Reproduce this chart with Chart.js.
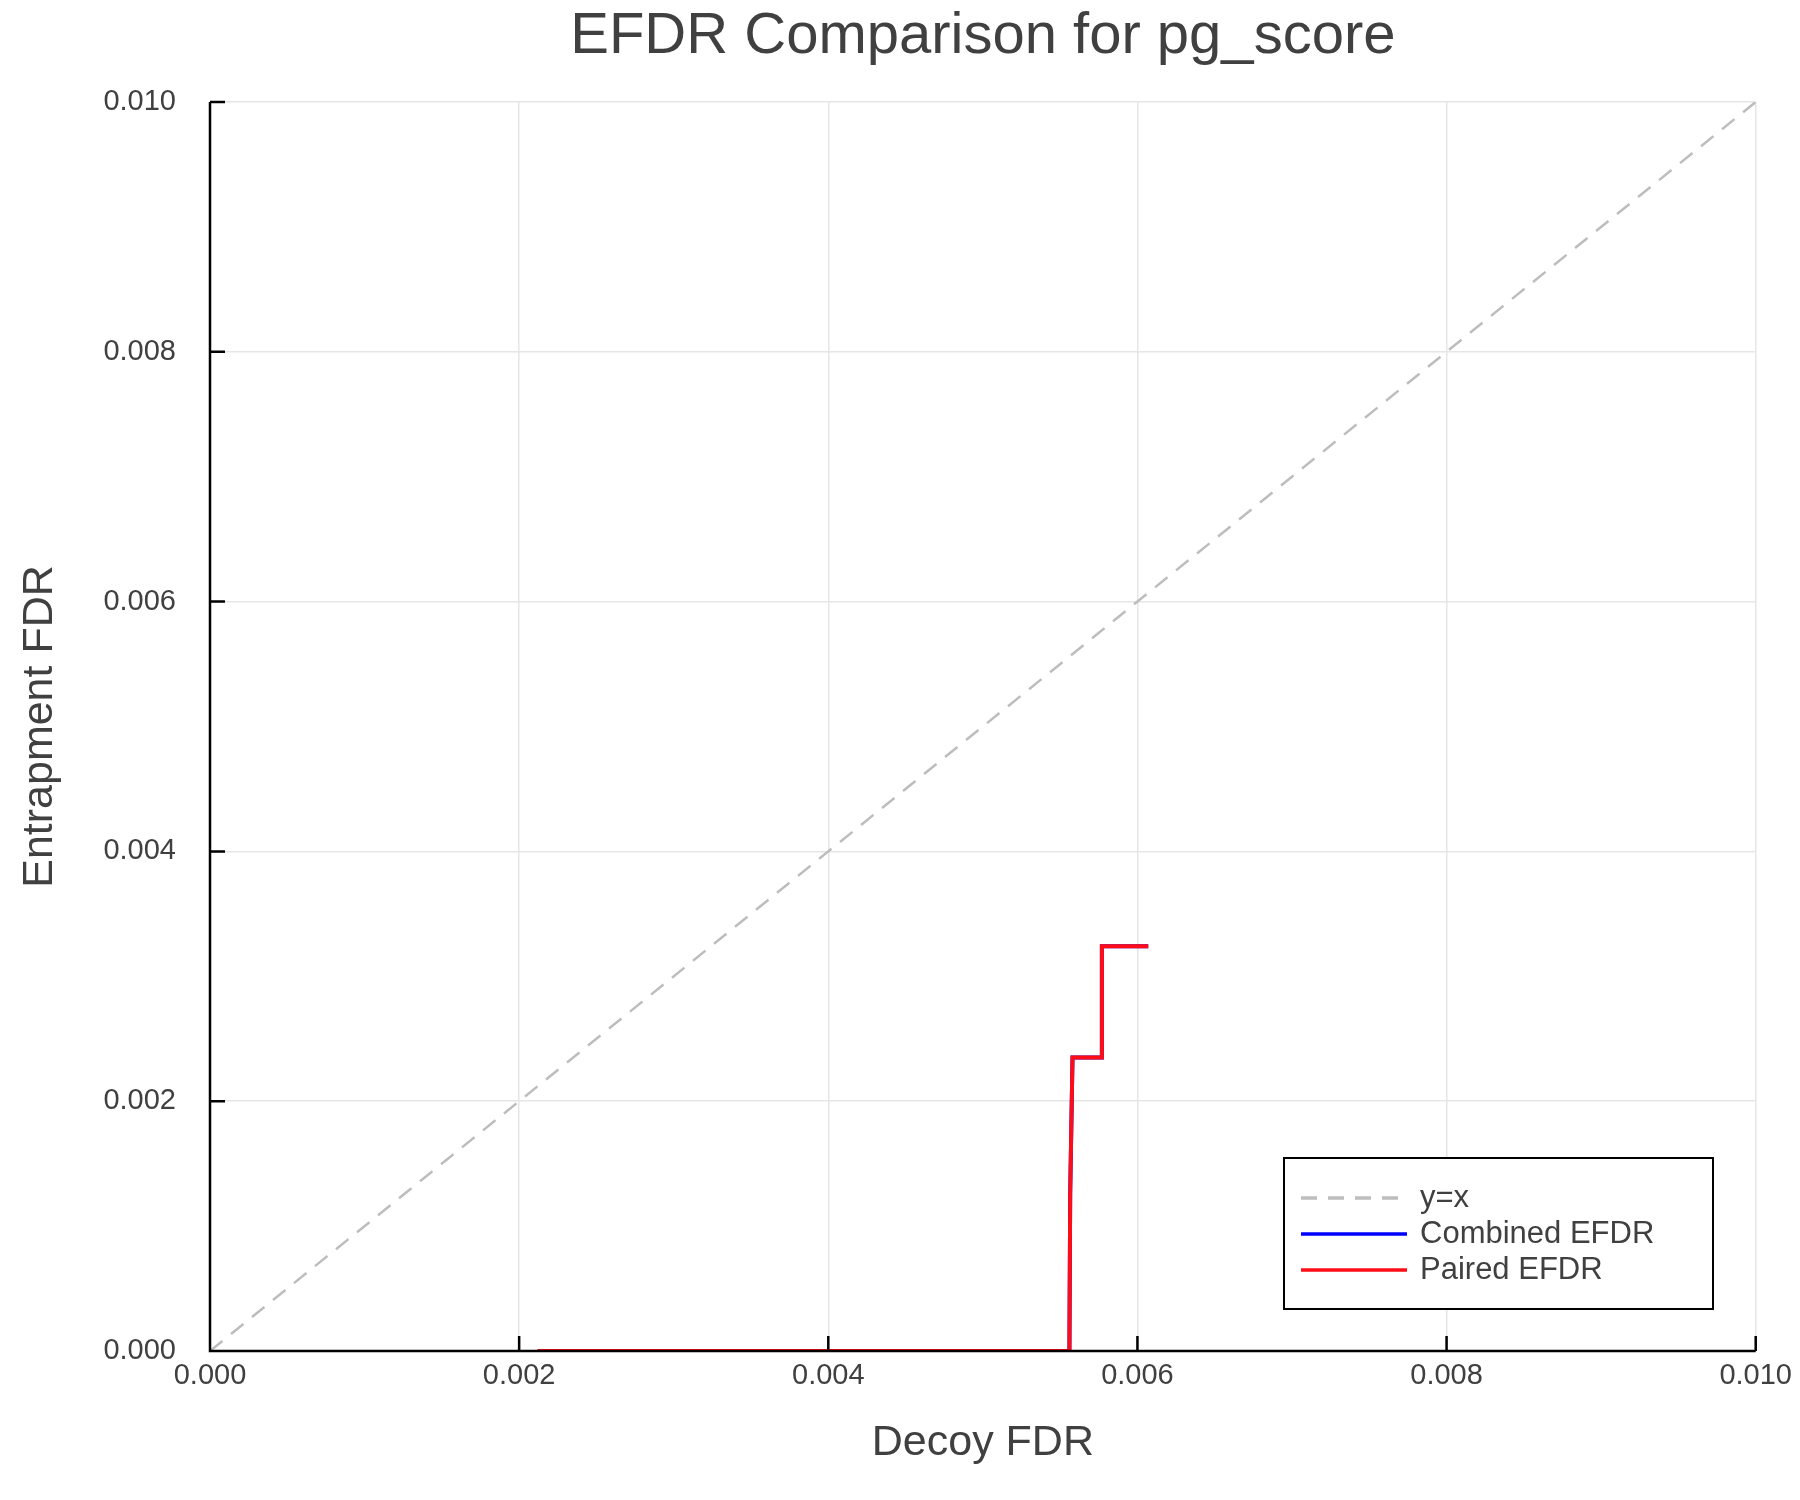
<!DOCTYPE html>
<html><head><meta charset="utf-8">
<script src="https://cdn.jsdelivr.net/npm/chart.js@4"></script>
<style>body{margin:0;background:#fff}#w{width:1800px;height:1500px}</style></head>
<body><div id="w"><canvas id="c" width="1800" height="1500"></canvas></div>
<script>
const titleText = "EFDR Comparison for pg_score";
const xTitle = "Decoy FDR";
const yTitle = "Entrapment FDR";
const tickValues = [0, 0.002, 0.004, 0.006, 0.008, 0.010];
const diagX = [0, 0.01];
const diagY = [0, 0.01];
const efdrX = [0.00212, 0.00556, 0.005565, 0.00558, 0.00577, 0.00577, 0.00607];
const combinedY = [0, 0, 0.00126, 0.00235, 0.00235, 0.00324, 0.00324];
const pairedY = [0, 0, 0.00126, 0.00235, 0.00235, 0.00324, 0.00324];
const FONT = "'Liberation Sans', Arial, sans-serif";
const pts = (xs, ys) => xs.map((x, i) => ({x, y: ys[i]}));

const deco = {
  id: 'deco',
  afterDraw(ch) {
    const c = ch.ctx, a = ch.chartArea, xs = ch.scales.x, ys = ch.scales.y;
    c.save();
    c.fillStyle = '#404040';
    c.textAlign = 'center'; c.textBaseline = 'middle';
    c.font = '58px ' + FONT;
    c.fillText(titleText, (a.left + a.right) / 2, 37);
    c.font = '43px ' + FONT;
    c.fillText(xTitle, (a.left + a.right) / 2, 1443);
    c.translate(40, (a.top + a.bottom) / 2); c.rotate(-Math.PI / 2);
    c.fillText(yTitle, 0, 0);
    c.restore();
    c.save();
    c.strokeStyle = '#000'; c.lineWidth = 2.5;
    c.beginPath();
    c.moveTo(a.left, a.top); c.lineTo(a.left, a.bottom); c.lineTo(a.right, a.bottom);
    tickValues.forEach(v => {
      const px = xs.getPixelForValue(v), py = ys.getPixelForValue(v);
      c.moveTo(px, a.bottom); c.lineTo(px, a.bottom - 15);
      c.moveTo(a.left, py); c.lineTo(a.left + 15, py);
    });
    c.stroke();
    const L = 1284, T = 1158, W = 429, H = 151;
    c.fillStyle = '#fff'; c.fillRect(L, T, W, H);
    c.lineWidth = 2; c.strokeRect(L, T, W, H);
    c.font = '31px ' + FONT; c.textAlign = 'left'; c.textBaseline = 'middle';
    ch.data.datasets.forEach((d, i) => {
      const y = T + 40 + i * 36;
      c.strokeStyle = d.borderColor; c.lineWidth = 3.5;
      c.setLineDash(d.borderDash || []);
      c.beginPath(); c.moveTo(L + 17, y); c.lineTo(L + 123, y); c.stroke();
      c.setLineDash([]);
      c.fillStyle = '#404040'; c.fillText(d.label, L + 136, y);
    });
    c.restore();
  }
};

new Chart(document.getElementById('c'), {
  type: 'scatter',
  data: { datasets: [
    { label: 'y=x', order: 3, data: pts(diagX, diagY), showLine: true, borderColor: '#bdbdbd', borderWidth: 2.5, borderDash: [16, 11], pointRadius: 0 },
    { label: 'Combined EFDR', order: 2, data: pts(efdrX, combinedY), showLine: true, borderColor: '#0000ff', borderWidth: 4, pointRadius: 0 },
    { label: 'Paired EFDR', order: 1, data: pts(efdrX, pairedY), showLine: true, borderColor: '#ff0d16', borderWidth: 4, pointRadius: 0 }
  ]},
  options: {
    responsive: false, animation: false, devicePixelRatio: 1,
    layout: { padding: { top: 102, right: 35, bottom: 0, left: 0 } },
    plugins: { legend: { display: false }, tooltip: { enabled: false } },
    scales: {
      x: { type: 'linear', min: 0, max: 0.01,
        afterBuildTicks: s => { s.ticks = tickValues.map(v => ({value: v})); },
        afterFit: s => { s.height = 149; },
        border: { display: false },
        grid: { color: '#e6e6e6', lineWidth: 1.5, drawTicks: false },
        ticks: { padding: 8, color: '#404040', font: { size: 29, family: FONT }, maxRotation: 0, callback: v => v.toFixed(3) } },
      y: { type: 'linear', min: 0, max: 0.01,
        afterBuildTicks: s => { s.ticks = tickValues.map(v => ({value: v})); },
        afterFit: s => { s.width = 210; },
        border: { display: false },
        grid: { color: '#e6e6e6', lineWidth: 1.5, drawTicks: false },
        ticks: { padding: 34, color: '#404040', font: { size: 29, family: FONT }, callback: v => v.toFixed(3) } }
    }
  },
  plugins: [deco]
});
</script></body></html>
